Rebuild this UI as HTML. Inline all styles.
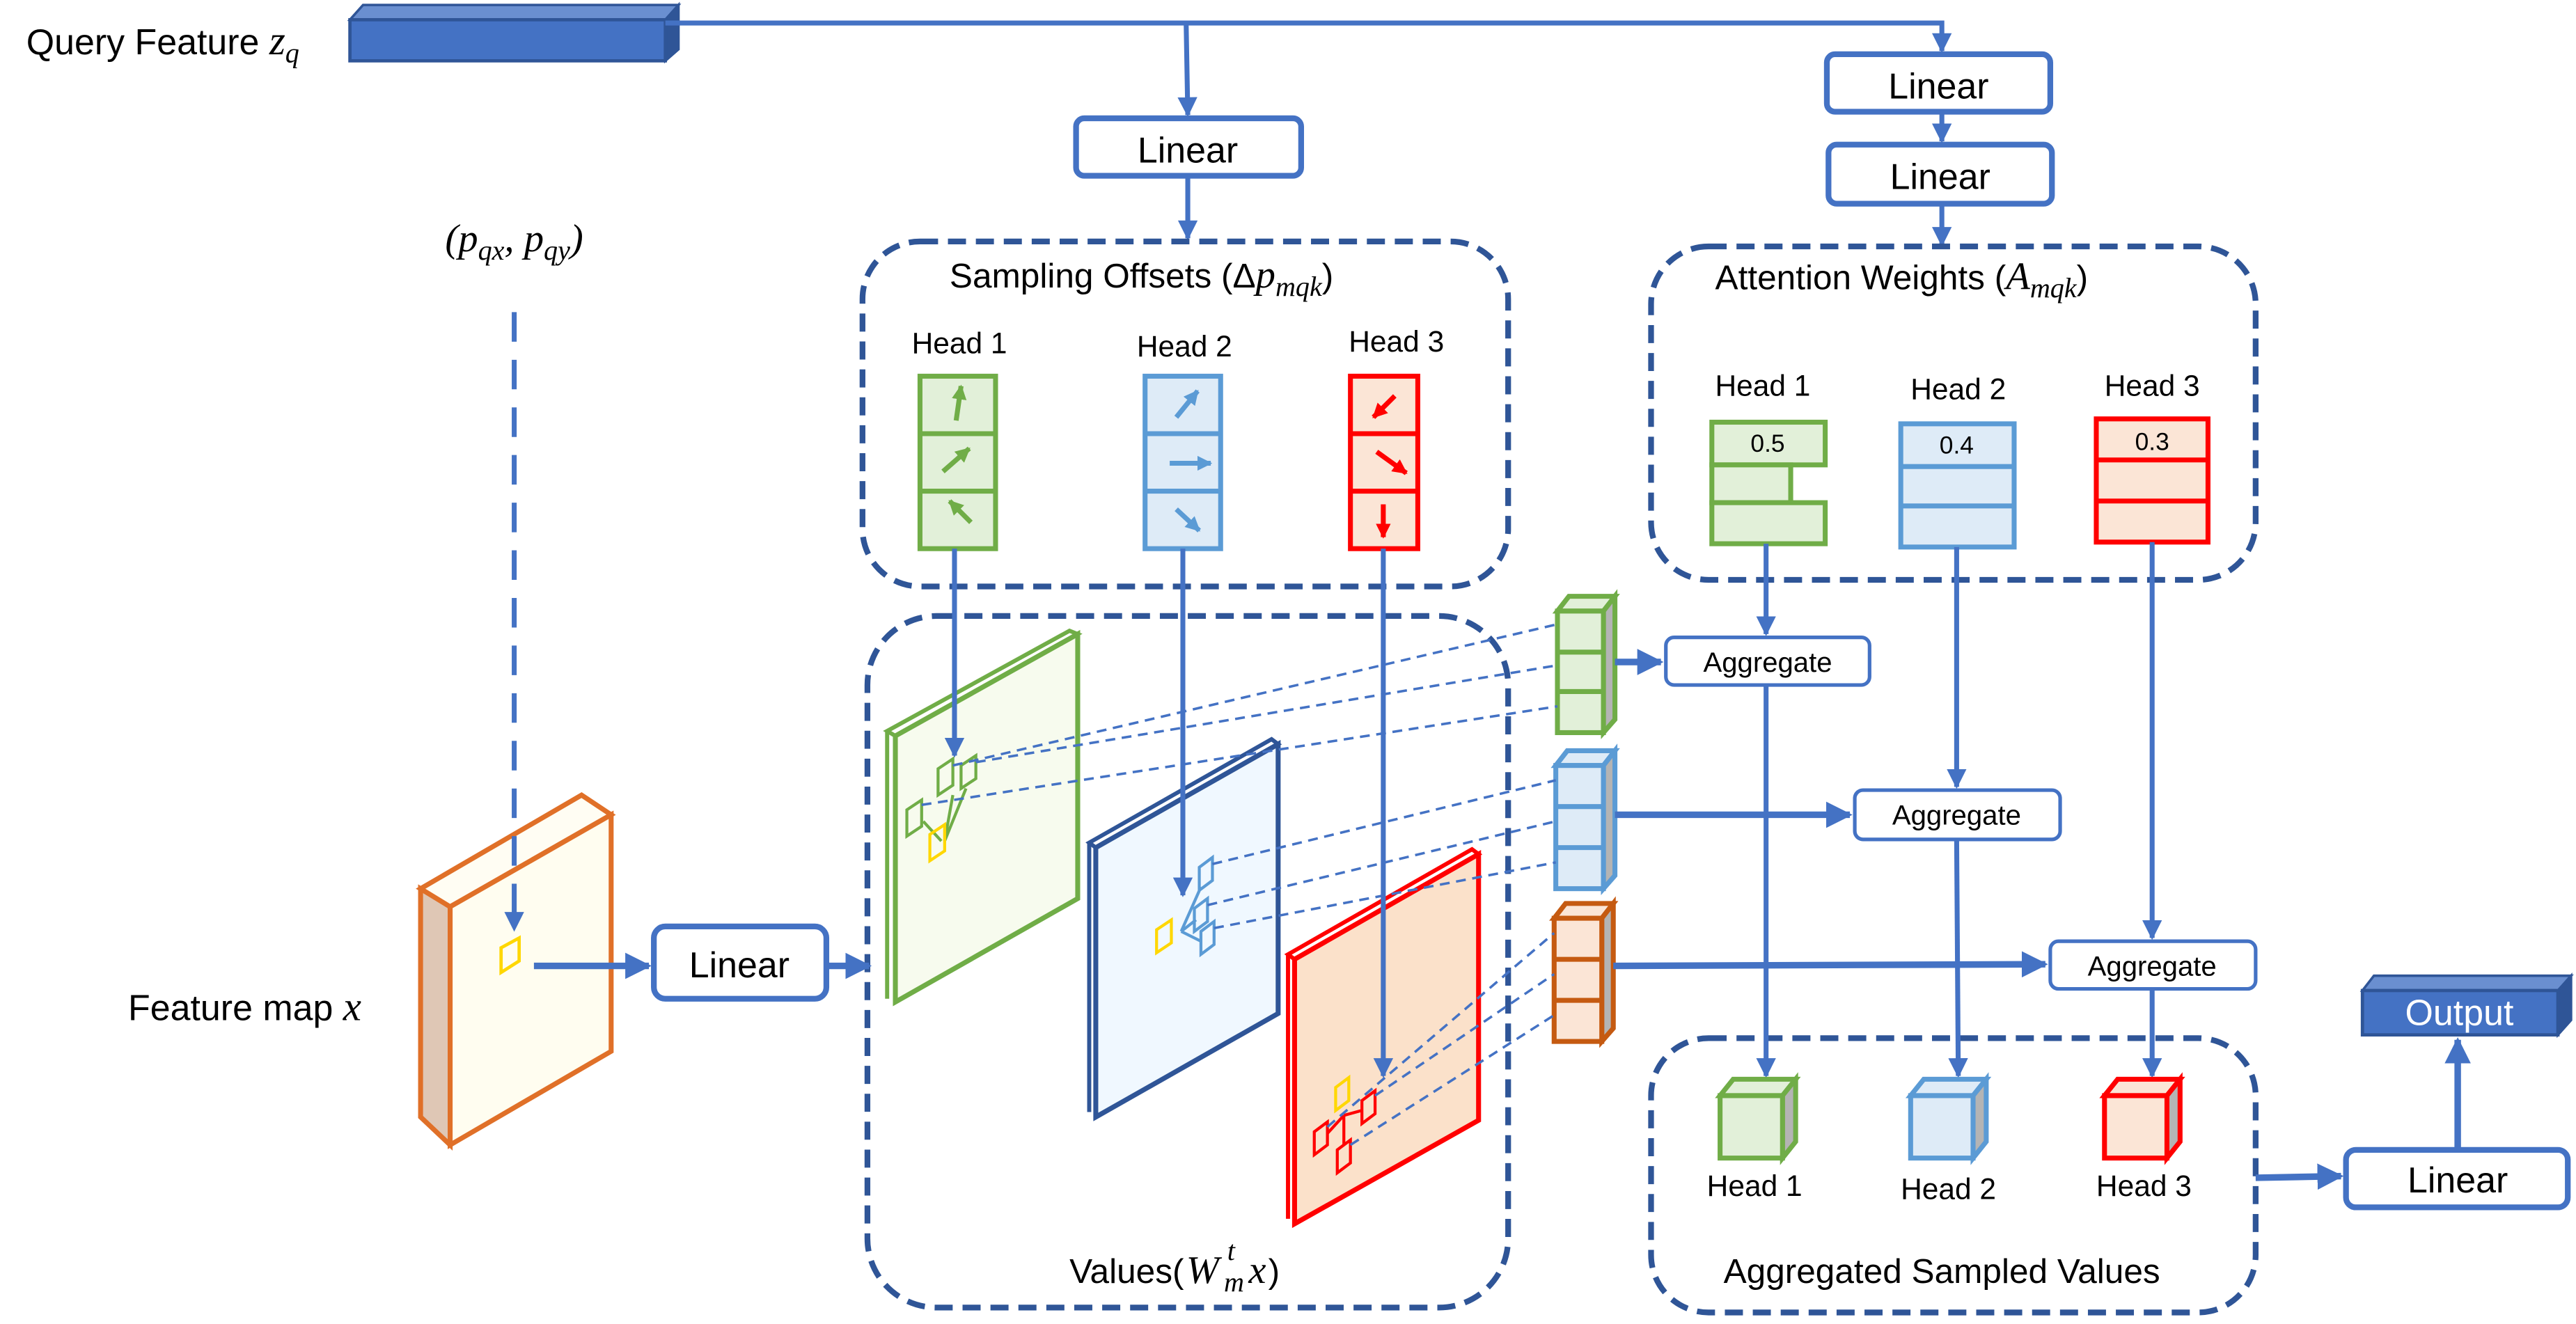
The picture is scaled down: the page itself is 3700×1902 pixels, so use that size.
<!DOCTYPE html>
<html><head><meta charset="utf-8"><style>
html,body{margin:0;padding:0;background:#fff;}
svg{display:block;}
text{font-family:"Liberation Sans",sans-serif;fill:#000;}
.m{font-family:"Liberation Serif",serif;font-style:italic;}
</style></head><body>
<svg width="3700" height="1902" viewBox="0 0 1568 806" xmlns="http://www.w3.org/2000/svg">
<defs>
<marker id="a" viewBox="0 0 10 10" refX="9" refY="5" markerWidth="4" markerHeight="4" orient="auto"><path d="M0,0L10,5L0,10z" fill="#4472c4"/></marker>
<marker id="ag" viewBox="0 0 10 10" refX="9" refY="5" markerWidth="3" markerHeight="3" orient="auto"><path d="M0,0L10,5L0,10z" fill="#70ad47"/></marker>
<marker id="ab" viewBox="0 0 10 10" refX="9" refY="5" markerWidth="3" markerHeight="3" orient="auto"><path d="M0,0L10,5L0,10z" fill="#5b9bd5"/></marker>
<marker id="ar" viewBox="0 0 10 10" refX="9" refY="5" markerWidth="3" markerHeight="3" orient="auto"><path d="M0,0L10,5L0,10z" fill="#ff0000"/></marker>
</defs>

<!-- Query feature -->
<text x="16" y="33" font-size="22">Query Feature <tspan class="m" font-size="25">z</tspan><tspan class="m" font-size="17" dy="5">q</tspan></text>
<polygon points="213,12 221,3 413,3 405,12" fill="#6a8fd0" stroke="#2f5597" stroke-width="1.5"/>
<polygon points="405,12 413,3 413,30 405,37" fill="#2f5597" stroke="#2f5597" stroke-width="1.5"/>
<rect x="213" y="12" width="192" height="25" fill="#4472c4" stroke="#2f5597" stroke-width="2"/>

<g stroke="#4472c4" stroke-width="3" fill="none">
<polyline points="405,14 1182,14 1182,31" marker-end="url(#a)"/>
<line x1="722" y1="14" x2="723" y2="70" marker-end="url(#a)"/>
<line x1="723" y1="107" x2="723" y2="145" marker-end="url(#a)"/>
<line x1="1182" y1="68" x2="1182" y2="86" marker-end="url(#a)"/>
<line x1="1182" y1="124" x2="1182" y2="149" marker-end="url(#a)"/>
</g>

<g fill="#fff" stroke="#4472c4" stroke-width="3.5">
<rect x="655" y="72" width="137" height="35" rx="5"/>
<rect x="1112" y="33" width="136" height="35" rx="5"/>
<rect x="1113" y="88" width="136" height="36" rx="5"/>
<rect x="398" y="564" width="105" height="44" rx="7"/>
<rect x="1428" y="700" width="135" height="35" rx="6"/>
</g>
<g font-size="22" text-anchor="middle">
<text x="723" y="99">Linear</text>
<text x="1180" y="60">Linear</text>
<text x="1181" y="115">Linear</text>
<text x="450" y="595">Linear</text>
<text x="1496" y="726">Linear</text>
</g>

<g fill="none" stroke="#2f5597" stroke-width="3.5" stroke-dasharray="11,6">
<rect x="525" y="147" width="393" height="210" rx="35"/>
<rect x="1005" y="150" width="368" height="203" rx="35"/>
<rect x="528" y="375" width="390" height="421" rx="42"/>
<rect x="1005" y="632" width="368" height="167" rx="35"/>
</g>

<text x="578" y="175" font-size="21">Sampling Offsets (Δ<tspan class="m" font-size="24">p</tspan><tspan class="m" font-size="17" dy="5">mqk</tspan><tspan dy="-5">)</tspan></text>
<text x="1044" y="176" font-size="21">Attention Weights (<tspan class="m" font-size="24">A</tspan><tspan class="m" font-size="17" dy="5">mqk</tspan><tspan dy="-5">)</tspan></text>
<text x="651" y="781" font-size="21">Values(</text>
<text x="722" y="781" font-size="24" class="m">W</text>
<text x="745" y="786" font-size="17" class="m">m</text>
<text x="747" y="767" font-size="17" class="m">t</text>
<text x="760" y="781" font-size="24" class="m">x</text>
<text x="772" y="781" font-size="21">)</text>
<text x="1182" y="781" font-size="21" text-anchor="middle">Aggregated Sampled Values</text>

<g font-size="18" text-anchor="middle">
<text x="584" y="215">Head 1</text><text x="721" y="217">Head 2</text><text x="850" y="214">Head 3</text>
<text x="1073" y="241">Head 1</text><text x="1192" y="243">Head 2</text><text x="1310" y="241">Head 3</text>
<text x="1068" y="728">Head 1</text><text x="1186" y="730">Head 2</text><text x="1305" y="728">Head 3</text>
</g>

<g stroke-width="3">
<rect x="560" y="229" width="46" height="105" fill="#e2f0d9" stroke="#70ad47"/>
<line x1="560" y1="264" x2="606" y2="264" stroke="#70ad47"/><line x1="560" y1="299" x2="606" y2="299" stroke="#70ad47"/>
<rect x="697" y="229" width="46" height="105" fill="#deebf7" stroke="#5b9bd5"/>
<line x1="697" y1="264" x2="743" y2="264" stroke="#5b9bd5"/><line x1="697" y1="299" x2="743" y2="299" stroke="#5b9bd5"/>
<rect x="822" y="229" width="41" height="105" fill="#fbe5d6" stroke="#ff0000"/>
<line x1="822" y1="264" x2="863" y2="264" stroke="#ff0000"/><line x1="822" y1="299" x2="863" y2="299" stroke="#ff0000"/>
</g>
<g stroke-width="3" fill="none">
<line x1="582" y1="256" x2="585" y2="235" stroke="#70ad47" marker-end="url(#ag)"/>
<line x1="574" y1="287" x2="590" y2="273" stroke="#70ad47" marker-end="url(#ag)"/>
<line x1="591" y1="318" x2="578" y2="305" stroke="#70ad47" marker-end="url(#ag)"/>
<line x1="716" y1="254" x2="729" y2="238" stroke="#5b9bd5" marker-end="url(#ab)"/>
<line x1="712" y1="282" x2="737" y2="282" stroke="#5b9bd5" marker-end="url(#ab)"/>
<line x1="716" y1="310" x2="730" y2="323" stroke="#5b9bd5" marker-end="url(#ab)"/>
<line x1="849" y1="241" x2="836" y2="254" stroke="#ff0000" marker-end="url(#ar)"/>
<line x1="838" y1="275" x2="856" y2="288" stroke="#ff0000" marker-end="url(#ar)"/>
<line x1="842" y1="307" x2="842" y2="327" stroke="#ff0000" marker-end="url(#ar)"/>
</g>

<g stroke-width="3">
<rect x="1042" y="257" width="69" height="26" fill="#e2f0d9" stroke="#70ad47"/>
<rect x="1042" y="283" width="48" height="23" fill="#e2f0d9" stroke="#70ad47"/>
<rect x="1042" y="306" width="69" height="25" fill="#e2f0d9" stroke="#70ad47"/>
<rect x="1157" y="258" width="69" height="75" fill="#deebf7" stroke="#5b9bd5"/>
<line x1="1157" y1="284" x2="1226" y2="284" stroke="#5b9bd5"/><line x1="1157" y1="308" x2="1226" y2="308" stroke="#5b9bd5"/>
<rect x="1276" y="255" width="68" height="75" fill="#fbe5d6" stroke="#ff0000"/>
<line x1="1276" y1="280" x2="1344" y2="280" stroke="#ff0000"/><line x1="1276" y1="305" x2="1344" y2="305" stroke="#ff0000"/>
</g>
<g font-size="15" text-anchor="middle"><text x="1076" y="275">0.5</text><text x="1191" y="276">0.4</text><text x="1310" y="274">0.3</text></g>

<polygon points="256,541 274,552 274,697 256,680" fill="#dfc7b5" stroke="#e07028" stroke-width="3"/>
<polygon points="256,541 354,484 372,496 274,552" fill="#fffdf3" stroke="#e07028" stroke-width="3"/>
<polygon points="274,552 372,496 372,640 274,697" fill="#fffdf0" stroke="#e07028" stroke-width="3"/>
<text x="78" y="621" font-size="22">Feature map <tspan class="m" font-size="25">x</tspan></text>
<text x="313" y="153" font-size="24" text-anchor="middle" class="m">(p<tspan font-size="17" dy="5">qx</tspan><tspan dy="-5">, p</tspan><tspan font-size="17" dy="5">qy</tspan><tspan dy="-5">)</tspan></text>
<line x1="313" y1="190" x2="313" y2="566" stroke="#4472c4" stroke-width="3" stroke-dasharray="18,11" marker-end="url(#a)"/>
<polygon points="305,577 316,571 316,585 305,592" fill="none" stroke="#ffd700" stroke-width="2"/>
<g stroke="#4472c4" stroke-width="4" fill="none">
<line x1="325" y1="588" x2="395" y2="588" marker-end="url(#a)"/>
<line x1="503" y1="588" x2="529" y2="588" marker-end="url(#a)"/>
</g>

<polygon points="540,445 651,384 656,386 545,448" fill="#fff" stroke="#70ad47" stroke-width="2.5"/>
<polygon points="545,448 656,386 656,547 545,610" fill="#f7fbee" stroke="#70ad47" stroke-width="3"/>
<line x1="540" y1="445" x2="540" y2="608" stroke="#70ad47" stroke-width="2.5"/>
<polygon points="663,513 774,450 778,453 667,516" fill="#fff" stroke="#2f5597" stroke-width="2.5"/>
<polygon points="667,516 778,453 778,617 667,680" fill="#f0f8ff" stroke="#2f5597" stroke-width="3"/>
<line x1="663" y1="513" x2="663" y2="677" stroke="#2f5597" stroke-width="2.5"/>
<polygon points="784,581 896,517 900,520 788,584" fill="#fff" stroke="#ff0000" stroke-width="2.5"/>
<polygon points="788,584 900,520 900,682 788,745" fill="#fbe1ca" stroke="#ff0000" stroke-width="3"/>
<line x1="784" y1="581" x2="784" y2="742" stroke="#ff0000" stroke-width="2.5"/>

<g stroke-width="3">
<g stroke="#70ad47"><polygon points="948,372 955,363 983,363 976,372" fill="#e2f0d9"/><polygon points="976,372 983,363 983,438 976,446" fill="#b4b4b4"/>
<rect x="948" y="372" width="28" height="74" fill="#e2f0d9"/><line x1="948" y1="397" x2="976" y2="397"/><line x1="948" y1="421" x2="976" y2="421"/></g>
<g stroke="#5b9bd5"><polygon points="947,466 954,457 983,457 976,466" fill="#deebf7"/><polygon points="976,466 983,457 983,533 976,541" fill="#b4b4b4"/>
<rect x="947" y="466" width="29" height="75" fill="#deebf7"/><line x1="947" y1="491" x2="976" y2="491"/><line x1="947" y1="516" x2="976" y2="516"/></g>
<g stroke="#c55a11"><polygon points="946,559 953,550 982,550 975,559" fill="#fbe5d6"/><polygon points="975,559 982,550 982,626 975,634" fill="#b4b4b4"/>
<rect x="946" y="559" width="29" height="75" fill="#fbe5d6"/><line x1="946" y1="584" x2="975" y2="584"/><line x1="946" y1="609" x2="975" y2="609"/></g>
</g>

<g fill="none" stroke-width="1.8">
<g stroke="#70ad47"><polygon points="571,468 580,462 580,478 571,484"/><polygon points="585,466 594,460 594,474 585,480"/><polygon points="552,493 561,487 561,503 552,509"/>
<line x1="575" y1="512" x2="580" y2="484"/><line x1="573" y1="512" x2="562" y2="500"/><line x1="575" y1="512" x2="588" y2="480"/></g>
<polygon points="566,508 575,502 575,518 566,524" stroke="#ffd700"/>
<g stroke="#5b9bd5"><polygon points="730,528 738,522 738,536 730,542"/><polygon points="727,553 735,547 735,561 727,567"/><polygon points="731,567 739,561 739,575 731,581"/>
<line x1="719" y1="567" x2="731" y2="540"/><line x1="719" y1="567" x2="728" y2="560"/><line x1="719" y1="567" x2="731" y2="573"/></g>
<polygon points="704,566 713,560 713,574 704,580" stroke="#ffd700"/>
<g stroke="#ff0000"><polygon points="800,689 808,683 808,697 800,703"/><polygon points="829,670 837,664 837,678 829,684"/><polygon points="814,700 822,694 822,708 814,714"/>
<line x1="818" y1="679" x2="808" y2="690"/><line x1="818" y1="679" x2="829" y2="676"/><line x1="818" y1="679" x2="818" y2="697"/></g>
<polygon points="813,662 821,656 821,670 813,676" stroke="#ffd700"/>
</g>

<g stroke="#4472c4" stroke-width="1.5" stroke-dasharray="6,4" fill="none">
<line x1="580" y1="466" x2="948" y2="380"/><line x1="594" y1="464" x2="948" y2="405"/><line x1="561" y1="490" x2="948" y2="430"/>
<line x1="738" y1="526" x2="947" y2="475"/><line x1="735" y1="551" x2="947" y2="500"/><line x1="739" y1="565" x2="947" y2="525"/>
<line x1="808" y1="686" x2="946" y2="568"/><line x1="837" y1="667" x2="946" y2="593"/><line x1="822" y1="697" x2="946" y2="618"/>
</g>

<g stroke="#4472c4" stroke-width="3" fill="none">
<line x1="581" y1="334" x2="581" y2="460" marker-end="url(#a)"/>
<line x1="720" y1="334" x2="720" y2="545" marker-end="url(#a)"/>
<line x1="842" y1="334" x2="842" y2="655" marker-end="url(#a)"/>
<line x1="1075" y1="331" x2="1075" y2="386" marker-end="url(#a)"/>
<line x1="1075" y1="417" x2="1075" y2="655" marker-end="url(#a)"/>
<line x1="1191" y1="333" x2="1191" y2="479" marker-end="url(#a)"/>
<line x1="1191" y1="511" x2="1192" y2="655" marker-end="url(#a)"/>
<line x1="1310" y1="330" x2="1310" y2="571" marker-end="url(#a)"/>
<line x1="1310" y1="602" x2="1310" y2="655" marker-end="url(#a)"/>
</g>
<g stroke="#4472c4" stroke-width="4" fill="none">
<line x1="983" y1="403" x2="1011" y2="403" marker-end="url(#a)"/>
<line x1="983" y1="496" x2="1126" y2="496" marker-end="url(#a)"/>
<line x1="982" y1="588" x2="1245" y2="587" marker-end="url(#a)"/>
<line x1="1373" y1="717" x2="1425" y2="716" marker-end="url(#a)"/>
<line x1="1496" y1="700" x2="1496" y2="633" marker-end="url(#a)"/>
</g>

<g fill="#fff" stroke="#4472c4" stroke-width="2.2">
<rect x="1014" y="388" width="124" height="29" rx="5"/>
<rect x="1129" y="481" width="125" height="30" rx="5"/>
<rect x="1248" y="573" width="125" height="29" rx="5"/>
</g>
<g font-size="17" text-anchor="middle">
<text x="1076" y="409">Aggregate</text><text x="1191" y="502">Aggregate</text><text x="1310" y="594">Aggregate</text>
</g>

<g stroke-width="3">
<g stroke="#70ad47"><polygon points="1047,667 1055,657 1093,657 1085,667" fill="#e2f0d9"/><polygon points="1085,667 1093,657 1093,695 1085,705" fill="#b4b4b4"/><rect x="1047" y="667" width="38" height="38" fill="#e2f0d9"/></g>
<g stroke="#5b9bd5"><polygon points="1163,667 1171,657 1209,657 1201,667" fill="#deebf7"/><polygon points="1201,667 1209,657 1209,695 1201,705" fill="#b4b4b4"/><rect x="1163" y="667" width="38" height="38" fill="#deebf7"/></g>
<g stroke="#ff0000"><polygon points="1281,667 1289,657 1327,657 1319,667" fill="#fbe5d6"/><polygon points="1319,667 1327,657 1327,695 1319,705" fill="#b4b4b4"/><rect x="1281" y="667" width="38" height="38" fill="#fbe5d6"/></g>
</g>

<polygon points="1438,603 1445,594 1565,594 1557,603" fill="#6a8fd0" stroke="#2f5597" stroke-width="1.5"/>
<polygon points="1557,603 1565,594 1565,621 1557,630" fill="#2f5597" stroke="#2f5597" stroke-width="1.5"/>
<rect x="1438" y="603" width="119" height="27" fill="#4472c4" stroke="#2f5597" stroke-width="2"/>
<text x="1497" y="624" font-size="22" text-anchor="middle" style="fill:#fff">Output</text>
</svg>
</body></html>
